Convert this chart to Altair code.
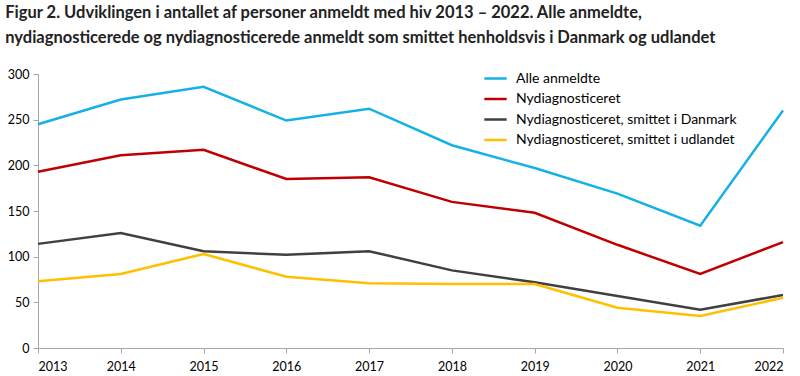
import altair as alt
import pandas as pd

years = [2013, 2014, 2015, 2016, 2017, 2018, 2019, 2020, 2021, 2022]
alle = [245, 272, 286, 249, 262, 222, 197, 169, 134, 260]
nydiag = [193, 211, 217, 185, 187, 160, 148, 113, 81, 116]
dk = [114, 126, 106, 102, 106, 85, 72, 57, 42, 58]
udland = [73, 81, 103, 78, 71, 70, 70, 44, 35, 55]

series = ["Alle anmeldte", "Nydiagnosticeret",
          "Nydiagnosticeret, smittet i Danmark",
          "Nydiagnosticeret, smittet i udlandet"]
colors = ["#14B1E7", "#C00000", "#404040", "#FFC000"]

rows = []
for name, vals in zip(series, [alle, nydiag, dk, udland]):
    for y, v in zip(years, vals):
        rows.append({"year": y, "value": v, "series": name})
df = pd.DataFrame(rows)

FONT = "Lato"

chart = alt.Chart(df).mark_line(strokeWidth=2.5).encode(
    x=alt.X("year:Q", scale=alt.Scale(domain=[2013, 2022], nice=False, zero=False),
            axis=alt.Axis(values=years, format="d", title=None, grid=False,
                          labelFontSize=12.5, labelColor="#000", domainColor="#A6A6A6",
                          tickColor="#A6A6A6", tickSize=5, labelPadding=7,
                          labelFont=FONT)),
    y=alt.Y("value:Q", scale=alt.Scale(domain=[0, 300], nice=False),
            axis=alt.Axis(values=[0, 50, 100, 150, 200, 250, 300], title=None, grid=False,
                          labelFontSize=12.5, labelColor="#000", domainColor="#A6A6A6",
                          tickColor="#A6A6A6", tickSize=5, labelPadding=4,
                          labelFont=FONT)),
    color=alt.Color("series:N", sort=series,
                    scale=alt.Scale(domain=series, range=colors),
                    legend=alt.Legend(title=None, orient="none", legendX=445, legendY=-8,
                                      symbolType="stroke", symbolStrokeWidth=2.5,
                                      symbolSize=500, labelFontSize=14, labelFont=FONT,
                                      labelColor="#000", rowPadding=0.5, labelOffset=8,
                                      labelLimit=400)),
).properties(
    width=745, height=274,
    padding={"left": 38, "top": 74, "right": 17, "bottom": 28},
    autosize=alt.AutoSizeParams(type="none"),
    title=alt.TitleParams(
        ["Figur 2. Udviklingen i antallet af personer anmeldt med hiv 2013 – 2022. Alle anmeldte,",
         "nydiagnosticerede og nydiagnosticerede anmeldt som smittet  henholdsvis i Danmark og udlandet"],
        anchor="start", dx=-2, fontSize=16.5, font=FONT, fontWeight="bold",
        color="#222", lineHeight=25, offset=20),
).configure_view(stroke=None)

chart.save("out.html", embed_options={"renderer": "svg", "actions": False})
